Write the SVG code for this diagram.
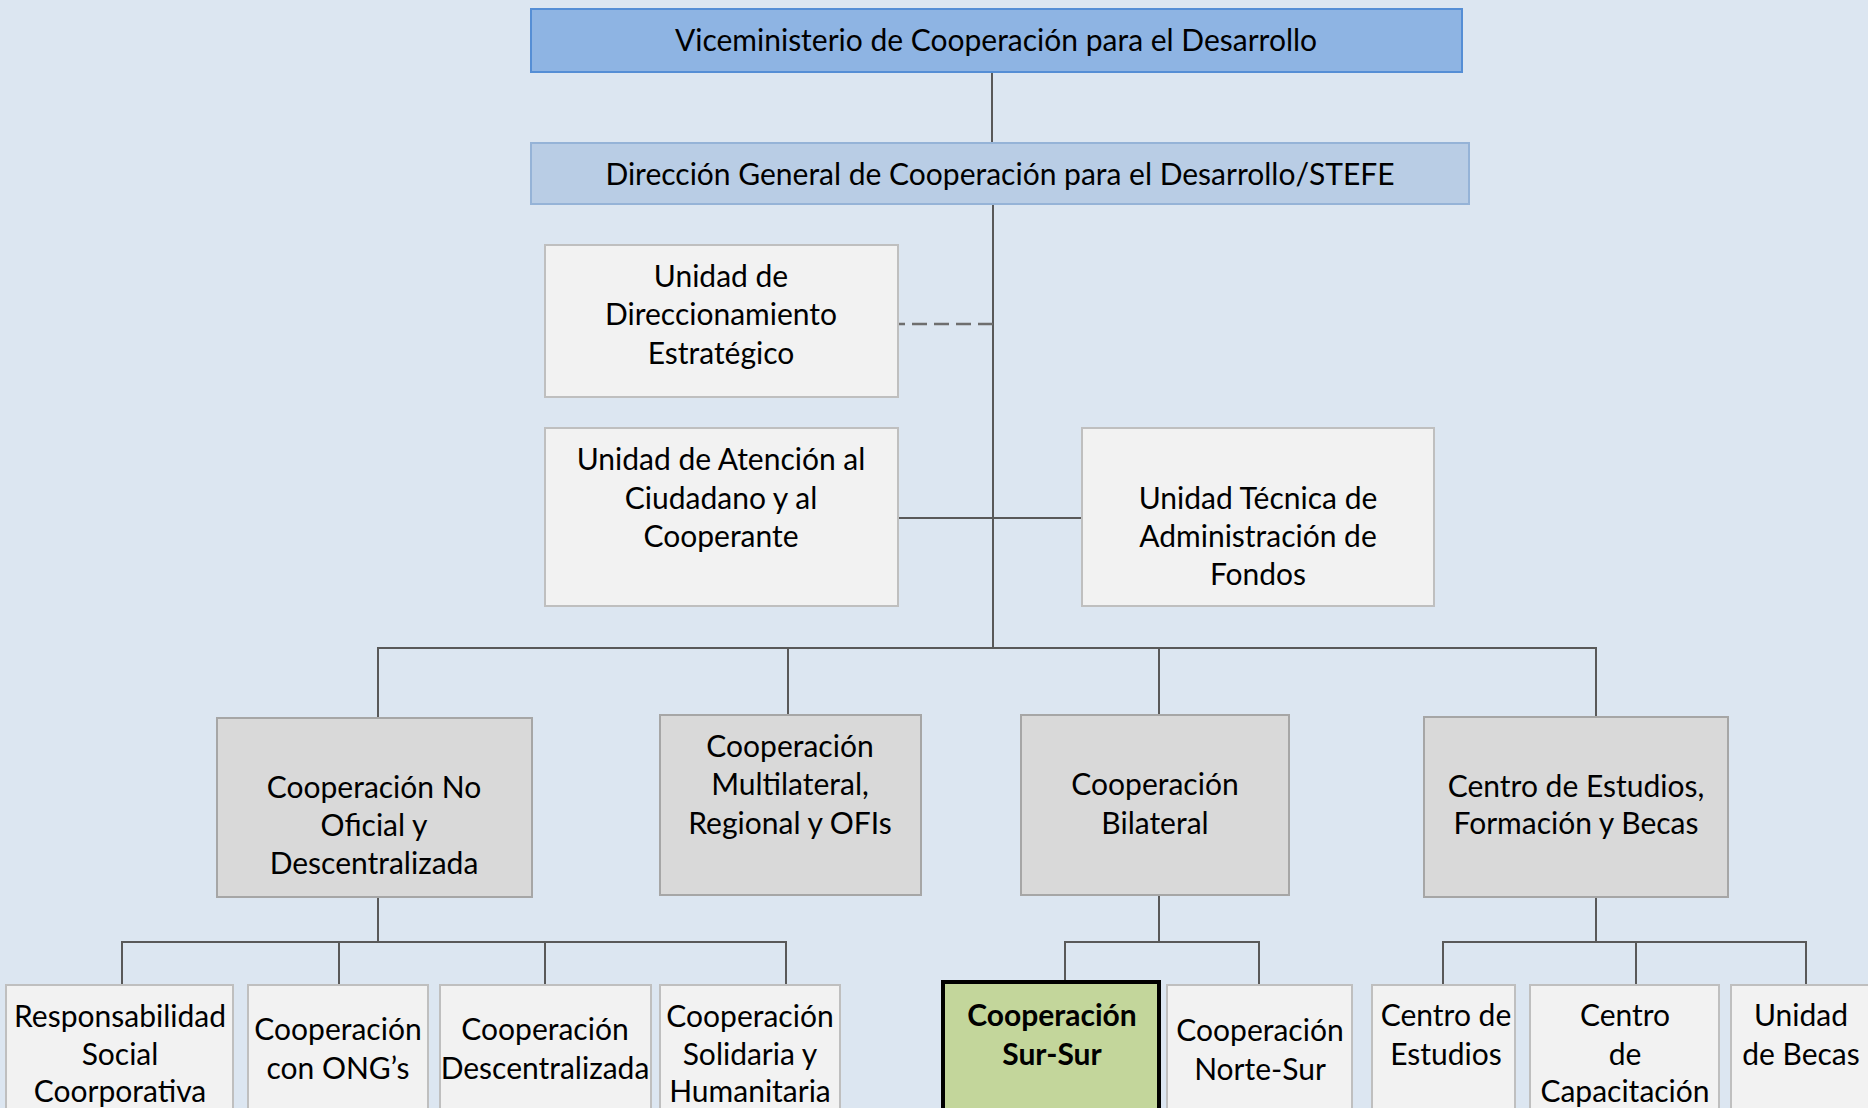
<svg xmlns="http://www.w3.org/2000/svg" width="1868" height="1108" viewBox="0 0 1868 1108">
<style>
.t{font-family:"Lato","Liberation Sans",sans-serif;font-size:30px;fill:#000;text-anchor:middle}
.b{font-weight:bold}
.top{fill:#8EB4E3;stroke:#558ED5;stroke-width:2}
.dg{fill:#B9CDE5;stroke:#95B3D7;stroke-width:2}
.lt{fill:#F2F2F2;stroke:#BFBFBF;stroke-width:2}
.md{fill:#D9D9D9;stroke:#A6A6A6;stroke-width:2}
.hl{fill:#C3D69B;stroke:#000;stroke-width:4}
.c{fill:none;stroke:#595959;stroke-width:2}
.d{fill:none;stroke:#6E6E6E;stroke-width:2.5;stroke-dasharray:15 7}
</style>
<rect x="0" y="0" width="1868" height="1108" fill="#DCE6F1"/>
<g id="connectors">
<path class="c" d="M992 72V143"/>
<path class="c" d="M993 204V648"/>
<path class="d" d="M993 324H898"/>
<path class="c" d="M898 518H1082"/>
<path class="c" d="M378 718V648H1596V717M788 648V715M1159 648V715"/>
<path class="c" d="M378 897V942M122 985V942H786V985M339 942V985M545 942V985"/>
<path class="c" d="M1159 895V942M1065 980V942H1259V985"/>
<path class="c" d="M1596 897V942M1443 985V942H1806V985M1636 942V985"/>
</g>
<g id="n-vice">
<rect class="top" x="531" y="9" width="931" height="63"/>
<text class="t" x="996" y="51">Viceministerio de Cooperación para el Desarrollo</text>
</g>
<g id="n-dgcd">
<rect class="dg" x="531" y="143" width="938" height="61"/>
<text class="t" x="1000" y="185">Dirección General de Cooperación para el Desarrollo/STEFE</text>
</g>
<g id="n-ude">
<rect class="lt" x="545" y="245" width="353" height="152"/>
<text class="t" x="721" y="287">Unidad de</text>
<text class="t" x="721" y="325">Direccionamiento</text>
<text class="t" x="721" y="364">Estratégico</text>
</g>
<g id="n-uac">
<rect class="lt" x="545" y="428" width="353" height="178"/>
<text class="t" x="721" y="470">Unidad de Atención al</text>
<text class="t" x="721" y="509">Ciudadano y al</text>
<text class="t" x="721" y="547">Cooperante</text>
</g>
<g id="n-utaf">
<rect class="lt" x="1082" y="428" width="352" height="178"/>
<text class="t" x="1258" y="509">Unidad Técnica de</text>
<text class="t" x="1258" y="547">Administración de</text>
<text class="t" x="1258" y="585">Fondos</text>
</g>
<g id="n-nooficial">
<rect class="md" x="217" y="718" width="315" height="179"/>
<text class="t" x="374" y="798">Cooperación No</text>
<text class="t" x="374" y="836">Oficial y</text>
<text class="t" x="374" y="874">Descentralizada</text>
</g>
<g id="n-multi">
<rect class="md" x="660" y="715" width="261" height="180"/>
<text class="t" x="790" y="757">Cooperación</text>
<text class="t" x="790" y="795">Multilateral,</text>
<text class="t" x="790" y="834">Regional y OFIs</text>
</g>
<g id="n-bilateral">
<rect class="md" x="1021" y="715" width="268" height="180"/>
<text class="t" x="1155" y="795">Cooperación</text>
<text class="t" x="1155" y="834">Bilateral</text>
</g>
<g id="n-centro">
<rect class="md" x="1424" y="717" width="304" height="180"/>
<text class="t" x="1576" y="797">Centro de Estudios,</text>
<text class="t" x="1576" y="834">Formación y Becas</text>
</g>
<g id="n-rsc">
<rect class="lt" x="6" y="985" width="227" height="140"/>
<text class="t" x="120" y="1027">Responsabilidad</text>
<text class="t" x="120" y="1065">Social</text>
<text class="t" x="120" y="1102">Coorporativa</text>
</g>
<g id="n-ong">
<rect class="lt" x="248" y="985" width="180" height="140"/>
<text class="t" x="338" y="1040">Cooperación</text>
<text class="t" x="338" y="1079">con ONG’s</text>
</g>
<g id="n-desc">
<rect class="lt" x="440" y="985" width="211" height="140"/>
<text class="t" x="545" y="1040">Cooperación</text>
<text class="t" x="545" y="1079">Descentralizada</text>
</g>
<g id="n-solid">
<rect class="lt" x="660" y="985" width="180" height="140"/>
<text class="t" x="750" y="1027">Cooperación</text>
<text class="t" x="750" y="1065">Solidaria y</text>
<text class="t" x="750" y="1102">Humanitaria</text>
</g>
<g id="n-sursur">
<rect class="hl" x="943" y="982" width="216" height="140"/>
<text class="t b" x="1052" y="1026">Cooperación</text>
<text class="t b" x="1052" y="1065">Sur-Sur</text>
</g>
<g id="n-nortesur">
<rect class="lt" x="1167" y="985" width="185" height="140"/>
<text class="t" x="1260" y="1041">Cooperación</text>
<text class="t" x="1260" y="1080">Norte-Sur</text>
</g>
<g id="n-ce">
<rect class="lt" x="1372" y="985" width="143" height="140"/>
<text class="t" x="1446" y="1026">Centro de</text>
<text class="t" x="1446" y="1065">Estudios</text>
</g>
<g id="n-cc">
<rect class="lt" x="1530" y="985" width="189" height="140"/>
<text class="t" x="1625" y="1026">Centro</text>
<text class="t" x="1625" y="1065">de</text>
<text class="t" x="1625" y="1102">Capacitación</text>
</g>
<g id="n-ub">
<rect class="lt" x="1731" y="985" width="150" height="140"/>
<text class="t" x="1801" y="1026">Unidad</text>
<text class="t" x="1801" y="1065">de Becas</text>
</g>
</svg>
